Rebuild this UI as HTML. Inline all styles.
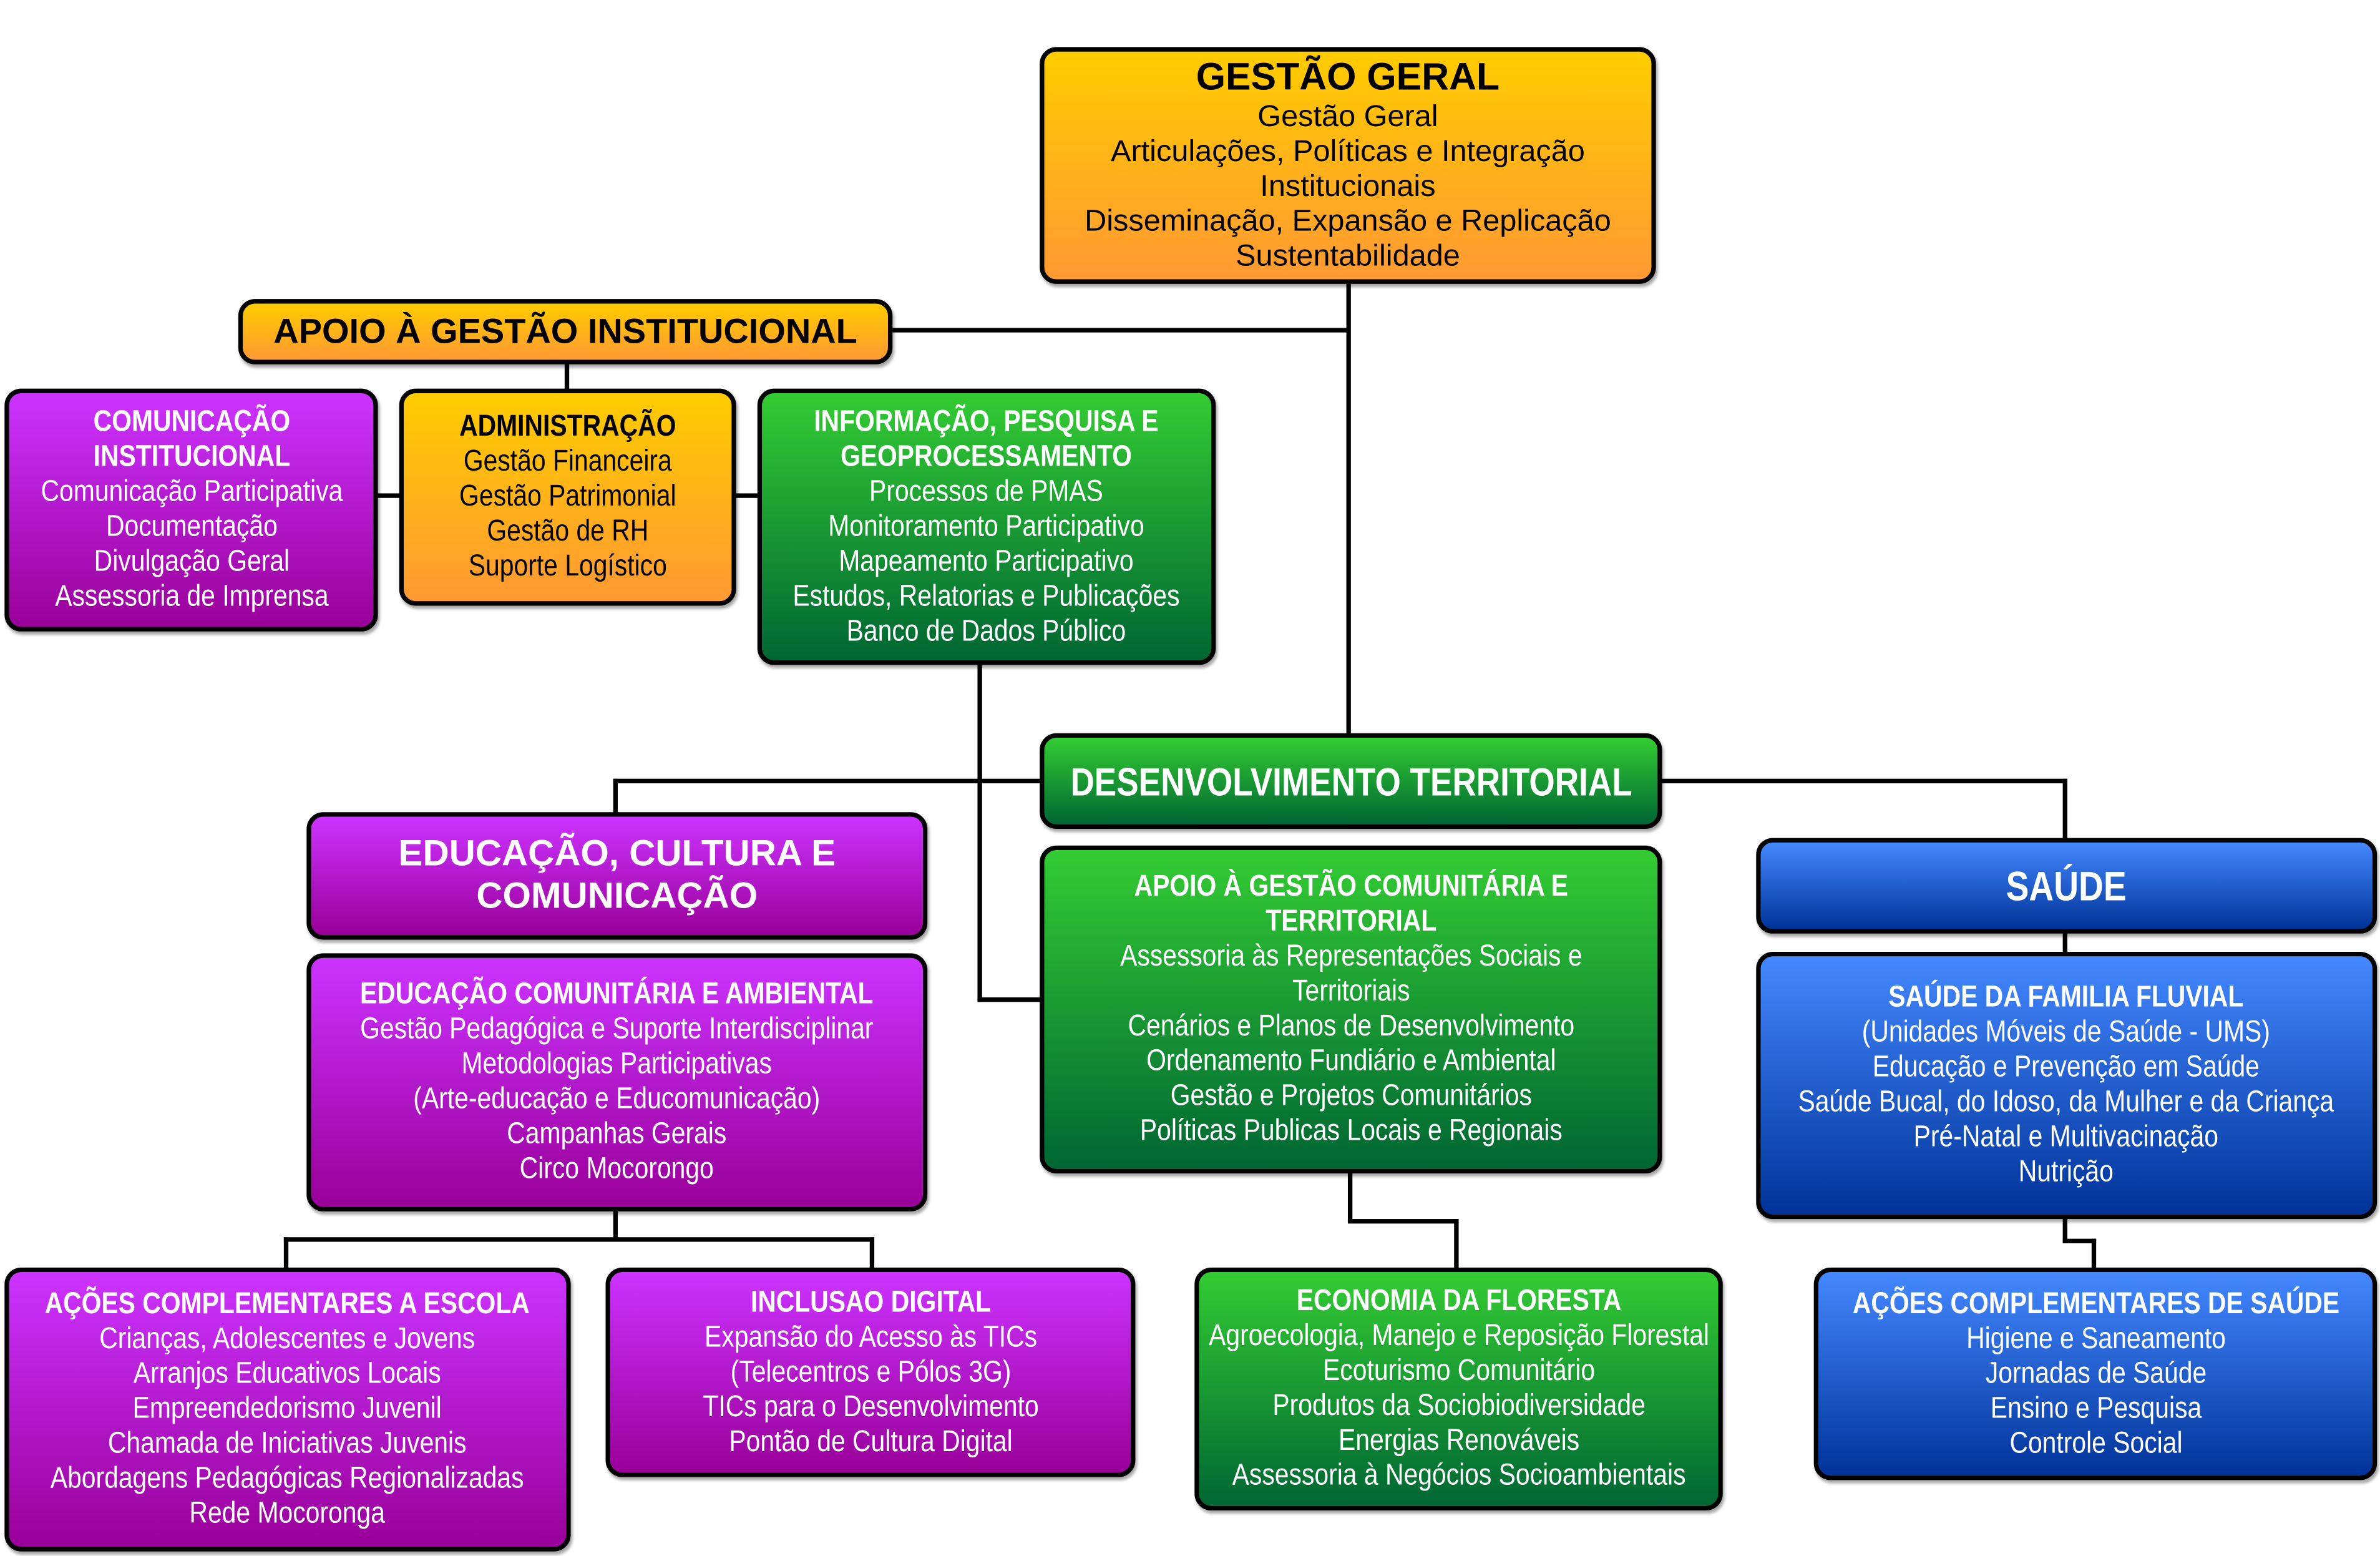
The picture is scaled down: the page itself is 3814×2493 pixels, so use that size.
<!DOCTYPE html>
<html><head><meta charset="utf-8">
<style>
html,body{margin:0;padding:0;background:#fff;}
body{width:3814px;height:2493px;overflow:hidden;position:relative;}
#s{position:absolute;left:0;top:0;width:1568px;height:1025px;transform:scale(2.4324,2.4322);transform-origin:0 0;}
.b{position:absolute;box-sizing:border-box;border:3px solid #000;border-radius:11px;display:flex;flex-direction:column;justify-content:center;align-items:center;text-align:center;font-family:"Liberation Sans",sans-serif;font-size:18px;line-height:23px;box-shadow:1px 2px 2px rgba(0,0,0,.35);}
.c{transform:scaleX(.84);white-space:nowrap;font-size:20px;line-height:23px;}
.o{background:linear-gradient(#ffcc00,#ff9933);color:#000;}
.p{background:linear-gradient(#cc33ff,#990099);color:#fff;}
.g{background:linear-gradient(#33cc33,#006633);color:#fff;}
.u{background:linear-gradient(#4488ff,#003399);color:#fff;}
.t{font-weight:bold;}
.l{position:absolute;background:#000;}
</style></head><body><div id="s">
<div class="l" style="left:887px;top:187px;width:3px;height:297px"></div>
<div class="l" style="left:588px;top:216px;width:301px;height:3px"></div>
<div class="l" style="left:372px;top:238px;width:3px;height:20px"></div>
<div class="l" style="left:248px;top:325px;width:16px;height:3px"></div>
<div class="l" style="left:484px;top:325px;width:16px;height:3px"></div>
<div class="l" style="left:644px;top:437px;width:3px;height:223px"></div>
<div class="l" style="left:644px;top:657px;width:42px;height:3px"></div>
<div class="l" style="left:404px;top:513px;width:282px;height:3px"></div>
<div class="l" style="left:404px;top:513px;width:3px;height:24px"></div>
<div class="l" style="left:1094px;top:513px;width:268px;height:3px"></div>
<div class="l" style="left:1359px;top:513px;width:3px;height:40px"></div>
<div class="l" style="left:1359px;top:614px;width:3px;height:14px"></div>
<div class="l" style="left:404px;top:797px;width:3px;height:20px"></div>
<div class="l" style="left:187px;top:815px;width:389px;height:3px"></div>
<div class="l" style="left:187px;top:815px;width:3px;height:21px"></div>
<div class="l" style="left:573px;top:815px;width:3px;height:21px"></div>
<div class="l" style="left:888px;top:772px;width:3px;height:33px"></div>
<div class="l" style="left:888px;top:803px;width:73px;height:3px"></div>
<div class="l" style="left:958px;top:803px;width:3px;height:33px"></div>
<div class="l" style="left:1359px;top:802px;width:3px;height:17px"></div>
<div class="l" style="left:1359px;top:816px;width:22px;height:3px"></div>
<div class="l" style="left:1378px;top:816px;width:3px;height:20px"></div>

<div class="b o" style="left:685px;top:31px;width:406px;height:156px;font-size:20px;line-height:23px"><div class="t" style="font-size:25px;line-height:29px">GESTÃO GERAL</div>Gestão Geral<br>Articulações, Políticas e Integração<br>Institucionais<br>Disseminação, Expansão e Replicação<br>Sustentabilidade</div>

<div class="b o" style="left:157px;top:197px;width:431px;height:43px"><div class="t" style="font-size:23px">APOIO À GESTÃO INSTITUCIONAL</div></div>

<div class="b p" style="left:3px;top:256px;width:246px;height:160px"><div class="c"><div class="t">COMUNICAÇÃO<br>INSTITUCIONAL</div>Comunicação Participativa<br>Documentação<br>Divulgação Geral<br>Assessoria de Imprensa</div></div>

<div class="b o" style="left:263px;top:256px;width:222px;height:143px"><div class="c"><div class="t">ADMINISTRAÇÃO</div>Gestão Financeira<br>Gestão Patrimonial<br>Gestão de RH<br>Suporte Logístico</div></div>

<div class="b g" style="left:499px;top:256px;width:302px;height:182px"><div class="c"><div class="t">INFORMAÇÃO, PESQUISA E<br>GEOPROCESSAMENTO</div>Processos de PMAS<br>Monitoramento Participativo<br>Mapeamento Participativo<br>Estudos, Relatorias e Publicações<br>Banco de Dados Público</div></div>

<div class="b g" style="left:685px;top:483px;width:410px;height:63px"><div class="c t" style="font-size:26px;line-height:30px">DESENVOLVIMENTO TERRITORIAL</div></div>

<div class="b p" style="left:202px;top:535px;width:409px;height:84px"><div class="t" style="font-size:24px;line-height:28px">EDUCAÇÃO, CULTURA E<br>COMUNICAÇÃO</div></div>

<div class="b p" style="left:202px;top:628px;width:409px;height:170px"><div class="c"><div class="t">EDUCAÇÃO COMUNITÁRIA E AMBIENTAL</div>Gestão Pedagógica e Suporte Interdisciplinar<br>Metodologias Participativas<br>(Arte-educação e Educomunicação)<br>Campanhas Gerais<br>Circo Mocorongo</div></div>

<div class="b g" style="left:685px;top:557px;width:410px;height:216px"><div class="c"><div class="t">APOIO À GESTÃO COMUNITÁRIA E<br>TERRITORIAL</div>Assessoria às Representações Sociais e<br>Territoriais<br>Cenários e Planos de Desenvolvimento<br>Ordenamento Fundiário e Ambiental<br>Gestão e Projetos Comunitários<br>Políticas Publicas Locais e Regionais</div></div>

<div class="b u" style="left:1157px;top:552px;width:409px;height:63px"><div class="c t" style="font-size:27px;line-height:30px">SAÚDE</div></div>

<div class="b u" style="left:1157px;top:627px;width:409px;height:176px"><div class="c"><div class="t">SAÚDE DA FAMILIA FLUVIAL</div>(Unidades Móveis de Saúde - UMS)<br>Educação e Prevenção em Saúde<br>Saúde Bucal, do Idoso, da Mulher e da Criança<br>Pré-Natal e Multivacinação<br>Nutrição</div></div>

<div class="b p" style="left:3px;top:835px;width:373px;height:187px"><div class="c"><div class="t">AÇÕES COMPLEMENTARES A ESCOLA</div>Crianças, Adolescentes e Jovens<br>Arranjos Educativos Locais<br>Empreendedorismo Juvenil<br>Chamada de Iniciativas Juvenis<br>Abordagens Pedagógicas Regionalizadas<br>Rede Mocoronga</div></div>

<div class="b p" style="left:399px;top:835px;width:349px;height:138px"><div class="c"><div class="t">INCLUSAO DIGITAL</div>Expansão do Acesso às TICs<br>(Telecentros e Pólos 3G)<br>TICs para o Desenvolvimento<br>Pontão de Cultura Digital</div></div>

<div class="b g" style="left:787px;top:835px;width:348px;height:160px"><div class="c"><div class="t">ECONOMIA DA FLORESTA</div>Agroecologia, Manejo e Reposição Florestal<br>Ecoturismo Comunitário<br>Produtos da Sociobiodiversidade<br>Energias Renováveis<br>Assessoria à Negócios Socioambientais</div></div>

<div class="b u" style="left:1195px;top:835px;width:371px;height:140px"><div class="c"><div class="t">AÇÕES COMPLEMENTARES DE SAÚDE</div>Higiene e Saneamento<br>Jornadas de Saúde<br>Ensino e Pesquisa<br>Controle Social</div></div>
</div></body></html>
